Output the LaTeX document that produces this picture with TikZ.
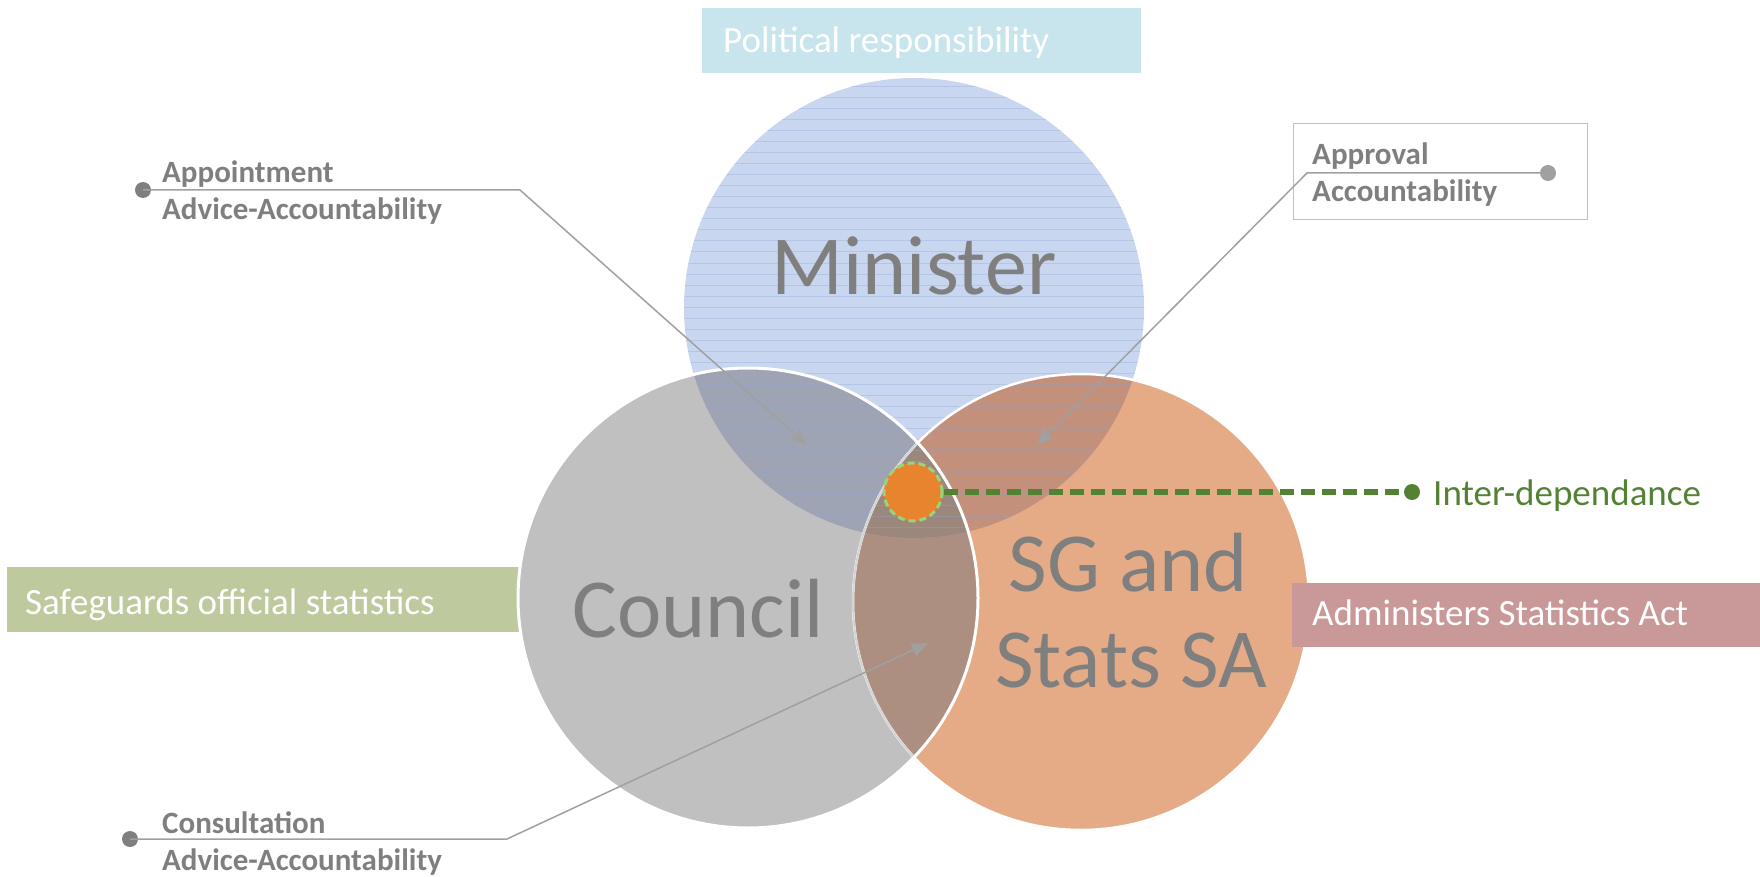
\documentclass[tikz,border=0pt]{standalone}
\usepackage{fontspec}
\setmainfont{Carlito}
\usetikzlibrary{arrows.meta}
\definecolor{minblue}{HTML}{C9D6EF}
\definecolor{stripeblue}{HTML}{8EA6D6}
\definecolor{sgorange}{HTML}{E4AB86}
\definecolor{cgray}{HTML}{C0C0C0}
\definecolor{mcblend}{HTML}{9EA4B3}
\definecolor{msblend}{HTML}{C3917B}
\definecolor{csblend}{HTML}{AC8F81}
\definecolor{triblend}{HTML}{9C877D}
\definecolor{txtgray}{HTML}{7F7F7F}
\definecolor{callgray}{HTML}{A0A0A0}
\definecolor{polblue}{HTML}{C8E5ED}
\definecolor{safegreen}{HTML}{BECA9E}
\definecolor{admrose}{HTML}{C99898}
\definecolor{interorange}{HTML}{E8832E}
\definecolor{interlight}{HTML}{9BD37A}
\definecolor{interdark}{HTML}{548235}
\tikzset{
  bigtext/.style={font=\fontsize{84}{96}\selectfont, text=txtgray, inner sep=0pt},
  labeltext/.style={font=\fontsize{37}{44}\selectfont, text=white, inner sep=0pt, anchor=base west},
  calltext/.style={font=\bfseries\fontsize{31}{37}\selectfont, text=txtgray, inner sep=0pt, anchor=base west},
  labelbox/.style={rectangle, inner sep=0pt, anchor=north west, draw=none},
  callline/.style={draw=callgray, line width=1.5pt, -{Triangle[length=16pt,width=13pt]}},
  calldot/.style={circle, inner sep=0pt, minimum size=16pt},
  stripe/.style={draw=stripeblue, line width=1pt, opacity=0.35},
}
\begin{document}
\begin{tikzpicture}[x=1pt,y=-1pt]
\useasboundingbox (0,0) rectangle (1760,877);
% centres
\coordinate (mC) at (914,308);
\coordinate (cC) at (748,598);
\coordinate (sC) at (1081,602);
% box partly under the council circle
\node[labelbox, fill=safegreen, minimum width=515pt, minimum height=65pt] (safebox) at (7,567) {};
% base fills
\fill[minblue] (mC) circle[radius=230pt];
\fill[sgorange] (sC) circle[radius=228pt];
\fill[cgray] (cC) circle[radius=230pt];
% council & SG overlap
\begin{scope}
  \clip (cC) circle[radius=230pt];
  \fill[csblend] (sC) circle[radius=228pt];
\end{scope}
% minister overlaps
\begin{scope}
  \clip (mC) circle[radius=230pt];
  \fill[mcblend] (cC) circle[radius=230pt];
  \fill[msblend] (sC) circle[radius=228pt];
  \begin{scope}
    \clip (cC) circle[radius=230pt];
    \fill[triblend] (sC) circle[radius=228pt];
  \end{scope}
  \foreach \yy in {87,98,...,540} \draw[stripe] (680,\yy) -- (1150,\yy);
\end{scope}
% outlines
\draw[white, line width=2.5pt] (sC) circle[radius=228pt];
\begin{scope}
  \clip (cC) circle[radius=230pt];
  \draw[cgray!70!white, line width=2pt] (sC) circle[radius=228pt];
\end{scope}
\draw[white, line width=3pt] (cC) circle[radius=230pt];
% big labels
\node[bigtext, anchor=base] (minister) at (914,294) {Minister};
\node[bigtext, anchor=base] (council) at (698,637) {Council};
\node[bigtext, anchor=base] (sg1) at (1128,591) {SG and};
\node[bigtext, anchor=base] (sg2) at (1131,687) {Stats SA};
% label boxes
\node[labelbox, fill=polblue, minimum width=439pt, minimum height=65pt] (polbox) at (702,8) {};
\node[labeltext] (poltext) at (723,53) {Political responsibility};
\node[labeltext] (safetext) at (25,614) {Safeguards official statistics};
\node[labelbox, fill=admrose, minimum width=468pt, minimum height=64pt] (admbox) at (1292,583) {};
\node[labeltext] (admtext) at (1312,625) {Administers Statistics Act};
% inter-dependance
\node[circle, fill=interorange, draw=interlight, line width=3pt, dash pattern=on 7pt off 4pt, minimum size=58pt, inner sep=0pt] (inter) at (913,492) {};
\node[calldot, fill=interdark] (idot) at (1412,492) {};
\draw[interdark, line width=6pt, dash pattern=on 14pt off 7pt] (inter.east) -- (idot.center);
\node[labeltext, text=interdark] (intertext) at (1433,505) {Inter-dependance};
% approval box
\node[labelbox, draw=cgray, line width=1.2pt, minimum width=294pt, minimum height=96pt] (appbox) at (1293,123) {};
\node[calltext] (app1) at (1312,165) {Approval};
\node[calltext] (app2) at (1312,202) {Accountability};
% callouts
\node[calltext] (ap1) at (162,183) {Appointment};
\node[calltext] (ap2) at (162,220) {Advice-Accountability};
\node[calltext] (co1) at (162,833) {Consultation};
\node[calltext] (co2) at (162,870) {Advice-Accountability};
\node[calldot, fill=txtgray] (dA) at (143,190) {};
\node[calldot, fill=callgray] (dB) at (1548,173) {};
\node[calldot, fill=txtgray] (dC) at (130,839) {};
\coordinate (bA) at (520,190);
\coordinate (bB) at (1307,173);
\coordinate (bC) at (507,839);
\coordinate (tA) at (807,445);
\coordinate (tB) at (1037,445);
\coordinate (tC) at (928,643);
\draw[callline] (dA.center) -- (bA) -- (tA);
\draw[callline] (dB.center) -- (bB) -- (tB);
\draw[callline] (dC.center) -- (bC) -- (tC);
\end{tikzpicture}
\end{document}
